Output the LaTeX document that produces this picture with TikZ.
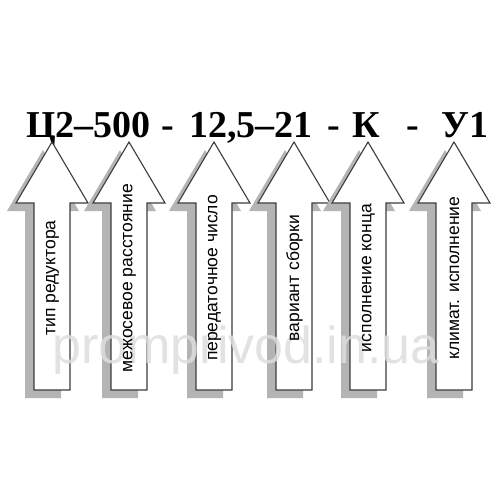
\documentclass[tikz,border=0pt]{standalone}
\usepackage{fontspec}
\setmainfont{Liberation Serif}
\newfontfamily\labfont{Liberation Sans}
\definecolor{shadowc}{RGB}{180,180,180}
\definecolor{edgec}{RGB}{60,60,60}
\definecolor{wmc}{RGB}{222,222,222}
\tikzset{
  titletext/.style={font=\bfseries\fontsize{38}{38}\selectfont, inner sep=0pt, anchor=base},
  labtext/.style={font=\labfont\fontsize{17.5}{17.5}\selectfont, rotate=90, inner sep=0pt},
  arrowbody/.style={fill=white, draw=edgec, line width=1.1pt, line join=miter},
  arrowshadow/.style={fill=shadowc},
  wmtext/.style={font=\labfont\fontsize{52}{52}\selectfont, inner sep=0pt, anchor=base, text=wmc}
}
\begin{document}
\begin{tikzpicture}[x=1pt,y=-1pt]
\useasboundingbox (0,0) rectangle (500,500);
\fill[white] (0,0) rectangle (500,500);
% title
\node[titletext] (t1) at (88.5,137) {Ц2–500};
\node[titletext] (t2) at (168,137) {-};
\node[titletext] (t3) at (251,137) {12,5–21};
\node[titletext] (t4) at (334,137) {-};
\node[titletext] (t5) at (366.5,137) {К};
\node[titletext] (t6) at (412.5,137) {-};
\node[titletext] (t7) at (465,137) {У1};
% arrows
\foreach \cx in {52,129,214,294,368,454}{
  \fill[arrowshadow, shift={(-9,8)}] (\cx,142) -- ({\cx+36},203) -- ({\cx+18},203) -- ({\cx+18},390) -- ({\cx-18},390) -- ({\cx-18},203) -- ({\cx-36},203) -- cycle;
  \draw[arrowbody] (\cx,142) -- ({\cx+36},203) -- ({\cx+18},203) -- ({\cx+18},390) -- ({\cx-18},390) -- ({\cx-18},203) -- ({\cx-36},203) -- cycle;
}
% watermark (behind the labels)
\node[wmtext, opacity=0.85] (wm) at (246,363) {promprivod.in.ua};
% labels
\foreach \cx/\i/\txt in {52/1/тип редуктора, 129/2/межосевое расстояние, 214/3/передаточное число, 294/4/вариант сборки, 368/5/исполнение конца, 454/6/климат. исполнение}{
  \node[labtext] (lab\i) at ({\cx+0.5},278) {\txt};
}
\end{tikzpicture}
\end{document}
